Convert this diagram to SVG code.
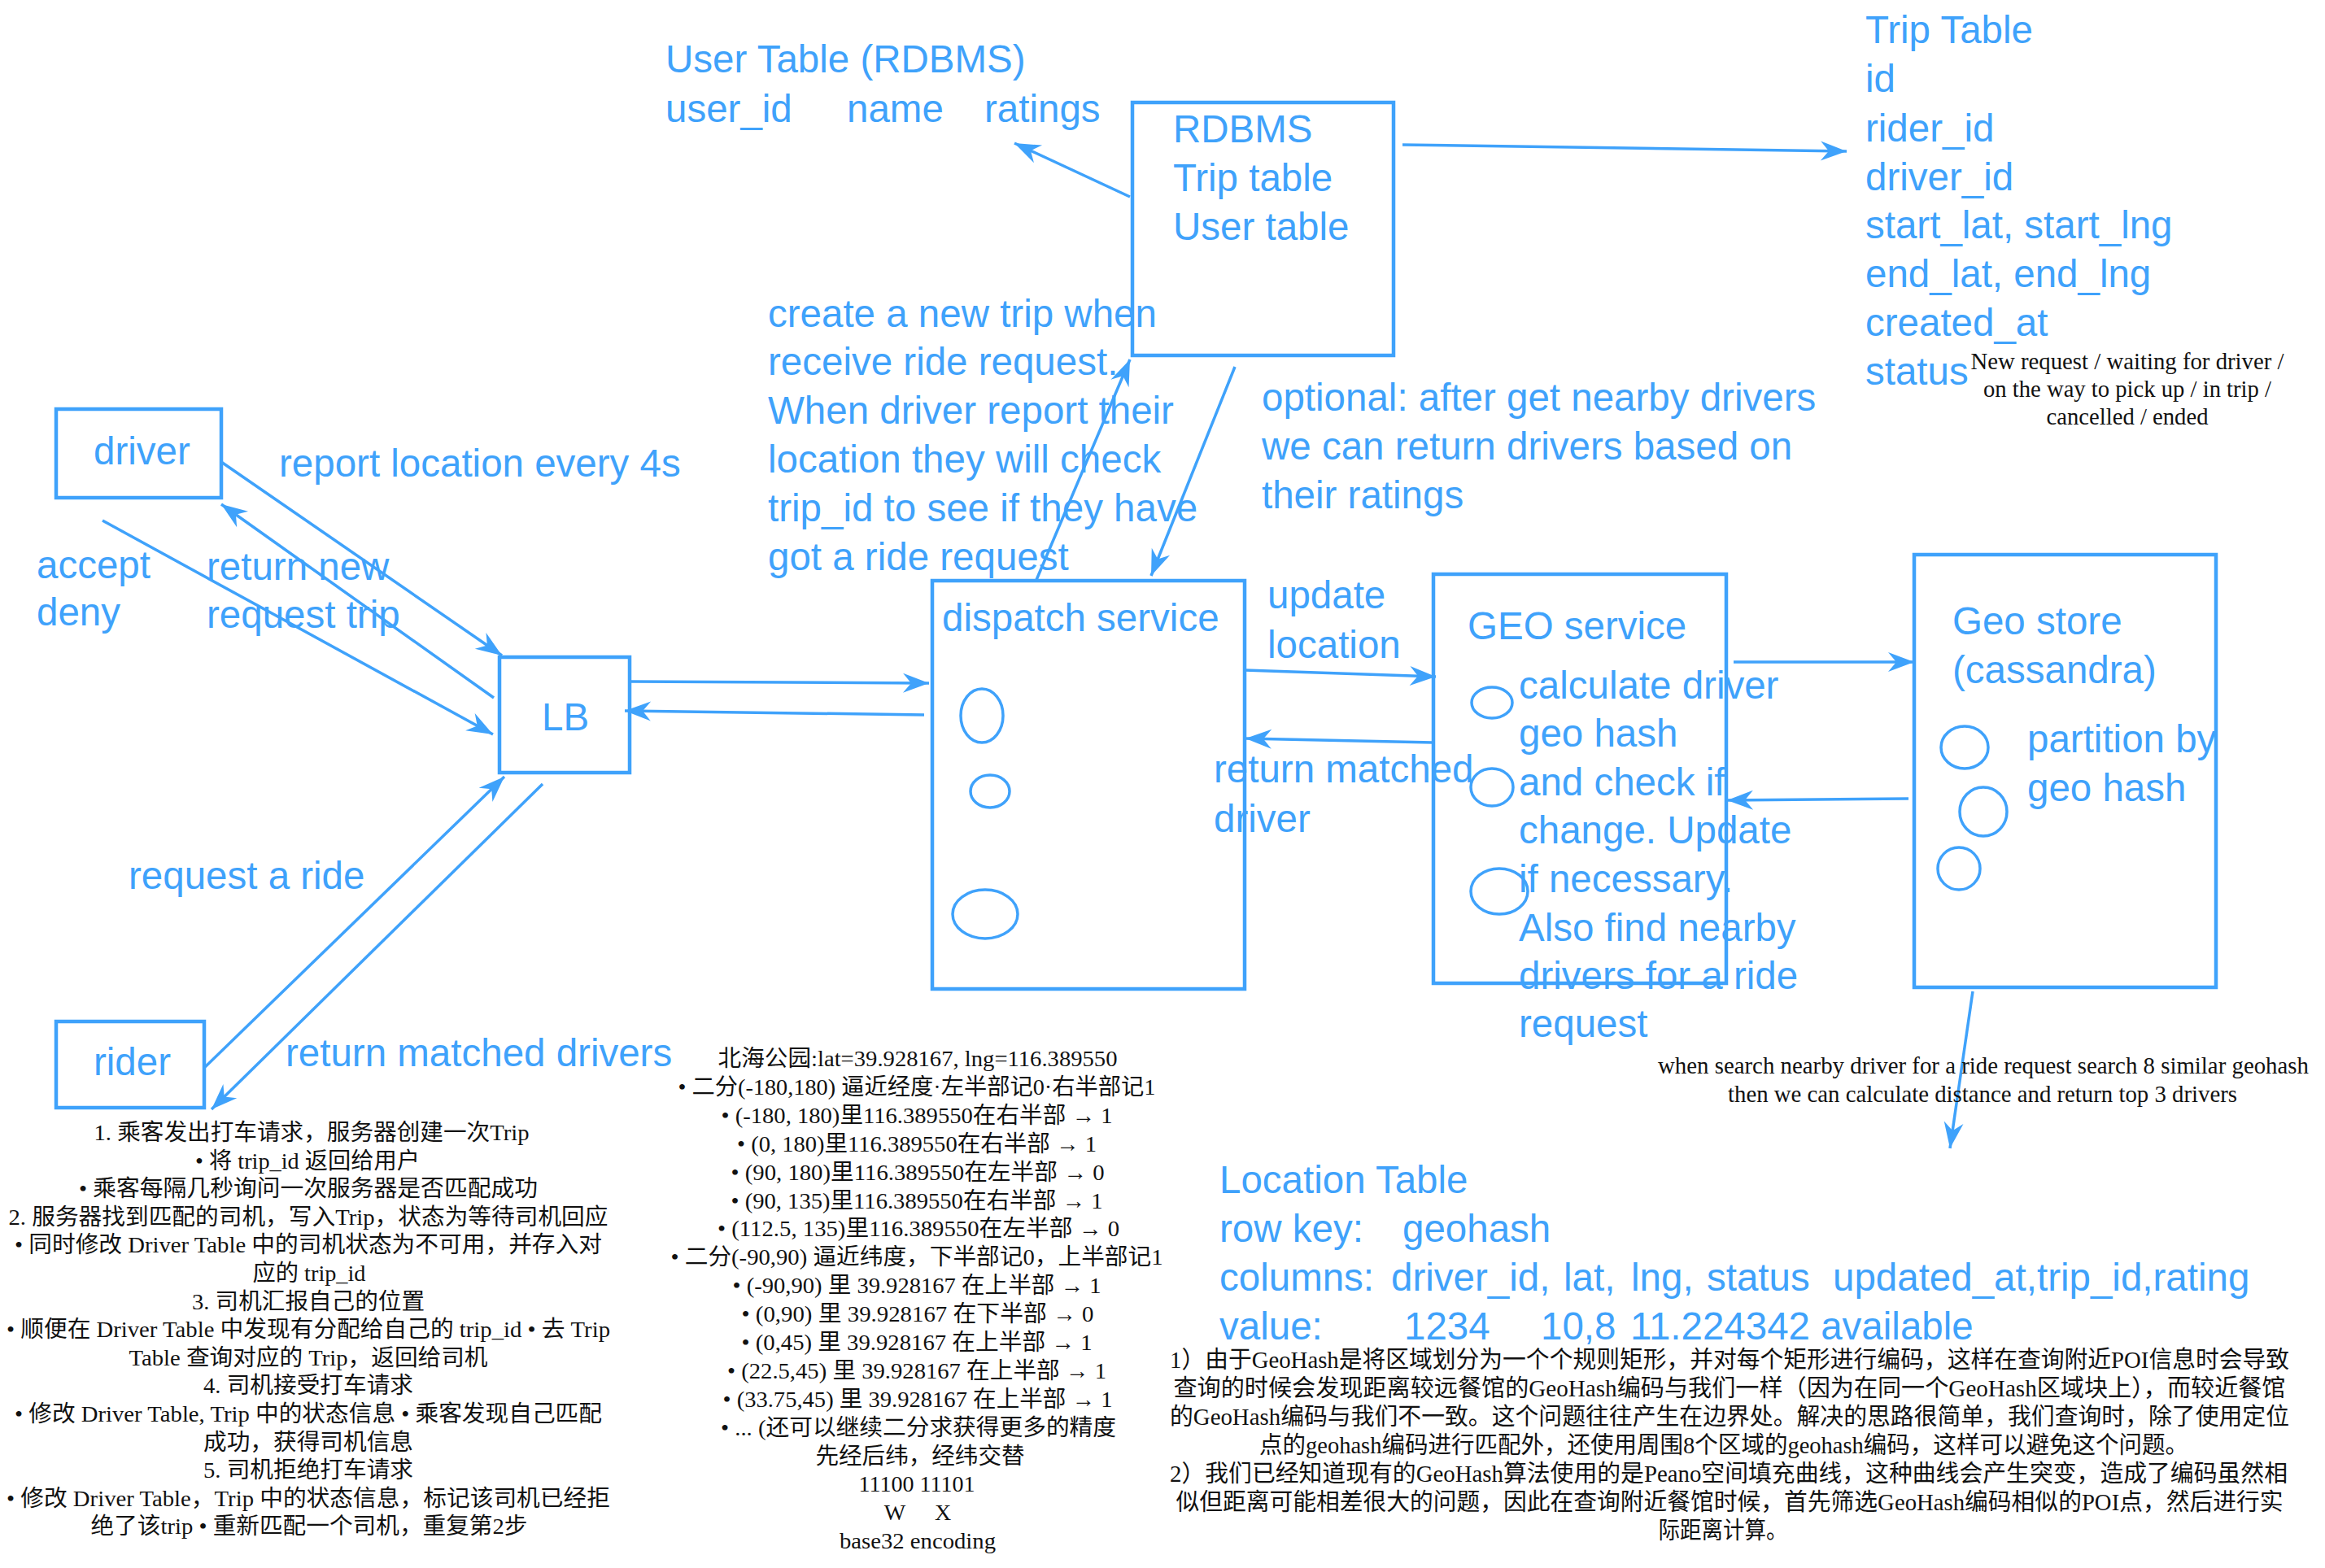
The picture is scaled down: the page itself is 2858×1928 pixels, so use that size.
<svg xmlns="http://www.w3.org/2000/svg" width="2858" height="1928" viewBox="0 0 2858 1928">
<style>
.b{font-family:"Liberation Sans",Arial,sans-serif;font-size:47.5px;fill:#3fa2fb}
.k{font-family:"Liberation Serif","Noto Sans CJK SC",serif;font-size:28px;fill:#111;text-anchor:middle}
.k29{font-size:29px}
.box{fill:none;stroke:#3fa2fb;stroke-width:4.5}
.ell{fill:none;stroke:#3fa2fb;stroke-width:3.5}
.conn line{stroke:#3fa2fb;stroke-width:3.5;marker-end:url(#ah)}
</style>
<defs>
<marker id="ah" markerUnits="userSpaceOnUse" viewBox="-33 -14 35 28" markerWidth="35" markerHeight="28" refX="0" refY="0" orient="auto">
<path d="M0,0 L-32,-12 L-22,0 L-32,12 Z" fill="#3fa2fb"/>
</marker>
</defs>
<rect width="2858" height="1928" fill="#fff"/>

<g id="connectors" class="conn">
<line x1="272" y1="568" x2="617" y2="806"/>
<line x1="607" y1="858" x2="272" y2="620"/>
<line x1="126" y1="640" x2="606" y2="903"/>
<line x1="775" y1="838" x2="1142" y2="840"/>
<line x1="1136" y1="879" x2="768" y2="874"/>
<line x1="251" y1="1313" x2="620" y2="955"/>
<line x1="667" y1="964" x2="260" y2="1364"/>
<line x1="1389" y1="242" x2="1247" y2="176"/>
<line x1="1724" y1="178" x2="2270" y2="186"/>
<line x1="1274" y1="713" x2="1389" y2="442"/>
<line x1="1518" y1="451" x2="1415" y2="708"/>
<line x1="1530" y1="824" x2="1765" y2="832"/>
<line x1="1761" y1="913" x2="1531" y2="908"/>
<line x1="2131" y1="814" x2="2353" y2="814"/>
<line x1="2346" y1="982" x2="2123" y2="984"/>
<line x1="2425" y1="1219" x2="2397" y2="1412"/>
</g>

<g id="driver">
<rect class="box" x="69" y="503" width="203" height="109"/>
<text class="b" x="115" y="571">driver</text>
</g>
<g id="lb">
<rect class="box" x="614" y="808" width="160" height="142"/>
<text class="b" x="666" y="898">LB</text>
</g>
<g id="rider">
<rect class="box" x="69" y="1256" width="182" height="106"/>
<text class="b" x="115" y="1322">rider</text>
</g>
<g id="rdbms">
<rect class="box" x="1392" y="126" width="321" height="311"/>
<text class="b" x="1442" y="175">RDBMS</text>
<text class="b" x="1442" y="235">Trip table</text>
<text class="b" x="1442" y="295">User table</text>
</g>
<g id="dispatch-service">
<rect class="box" x="1146" y="714" width="384" height="502"/>
<text class="b" x="1158" y="776">dispatch service</text>
<ellipse class="ell" cx="1207" cy="880" rx="26" ry="33"/>
<ellipse class="ell" cx="1217" cy="973" rx="24" ry="20"/>
<ellipse class="ell" cx="1211" cy="1124" rx="40" ry="30"/>
</g>
<g id="geo-service">
<rect class="box" x="1762" y="706" width="360" height="503"/>
<text class="b" x="1804" y="786">GEO service</text>
<ellipse class="ell" cx="1834" cy="864" rx="25" ry="19"/>
<ellipse class="ell" cx="1834" cy="968" rx="26" ry="23"/>
<ellipse class="ell" cx="1843" cy="1096" rx="35" ry="28"/>
<text class="b" x="1867" y="859">calculate driver</text>
<text class="b" x="1867" y="918">geo hash</text>
<text class="b" x="1867" y="978">and check if</text>
<text class="b" x="1867" y="1037">change. Update</text>
<text class="b" x="1867" y="1097">if necessary.</text>
<text class="b" x="1867" y="1157">Also find nearby</text>
<text class="b" x="1867" y="1216">drivers for a ride</text>
<text class="b" x="1867" y="1275">request</text>
</g>
<g id="geo-store">
<rect class="box" x="2353" y="682" width="371" height="532"/>
<text class="b" x="2400" y="780">Geo store</text>
<text class="b" x="2400" y="840">(cassandra)</text>
<ellipse class="ell" cx="2415" cy="919" rx="29" ry="26"/>
<ellipse class="ell" cx="2438" cy="998" rx="29" ry="30"/>
<ellipse class="ell" cx="2408" cy="1068" rx="26" ry="26"/>
<text class="b" x="2492" y="925">partition by</text>
<text class="b" x="2492" y="985">geo hash</text>
</g>

<g id="edge-labels">
<text class="b" x="343" y="586">report location every 4s</text>
<text class="b" x="45" y="711">accept</text>
<text class="b" x="45" y="769">deny</text>
<text class="b" x="254" y="713">return new</text>
<text class="b" x="254" y="772">request trip</text>
<text class="b" x="158" y="1093">request a ride</text>
<text class="b" x="351" y="1311">return matched drivers</text>
<text class="b" x="944" y="402">create a new trip when</text>
<text class="b" x="944" y="461">receive ride request.</text>
<text class="b" x="944" y="521">When driver report their</text>
<text class="b" x="944" y="581">location they will check</text>
<text class="b" x="944" y="641">trip_id to see if they have</text>
<text class="b" x="944" y="701">got a ride request</text>
<text class="b" x="1551" y="505">optional: after get nearby drivers</text>
<text class="b" x="1551" y="565">we can return drivers based on</text>
<text class="b" x="1551" y="625">their ratings</text>
<text class="b" x="1558" y="748">update</text>
<text class="b" x="1558" y="809">location</text>
<text class="b" x="1492" y="962">return matched</text>
<text class="b" x="1492" y="1023">driver</text>
</g>

<g id="user-table">
<text class="b" x="818" y="89">User Table (RDBMS)</text>
<text class="b" y="150"><tspan x="818">user_id</tspan><tspan x="1041">name</tspan><tspan x="1210">ratings</tspan></text>
</g>

<g id="trip-table">
<text class="b" x="2293" y="53">Trip Table</text>
<text class="b" x="2293" y="113">id</text>
<text class="b" x="2293" y="174">rider_id</text>
<text class="b" x="2293" y="234">driver_id</text>
<text class="b" x="2293" y="293">start_lat, start_lng</text>
<text class="b" x="2293" y="353">end_lat, end_lng</text>
<text class="b" x="2293" y="413">created_at</text>
<text class="b" x="2293" y="473">status</text>
<text class="k k29" x="2615" y="454" textLength="385" lengthAdjust="spacingAndGlyphs">New request / waiting for driver /</text>
<text class="k k29" x="2615" y="488" textLength="354" lengthAdjust="spacingAndGlyphs">on the way to pick up / in trip /</text>
<text class="k k29" x="2615" y="522" textLength="199" lengthAdjust="spacingAndGlyphs">cancelled / ended</text>
</g>

<g id="location-table">
<text class="b" x="1499" y="1467">Location Table</text>
<text class="b" y="1527"><tspan x="1499">row key:</tspan><tspan x="1724">geohash</tspan></text>
<text class="b" y="1587"><tspan x="1499">columns:</tspan><tspan x="1710">driver_id,</tspan><tspan x="1922">lat,</tspan><tspan x="2005">lng,</tspan><tspan x="2098">status</tspan><tspan x="2253">updated_at,trip_id,rating</tspan></text>
<text class="b" y="1647"><tspan x="1499">value:</tspan><tspan x="1726">1234</tspan><tspan x="1894">10,8</tspan><tspan x="2004">11.224342 available</tspan></text>
<text class="k k29" x="2438" y="1320" textLength="800" lengthAdjust="spacingAndGlyphs">when search nearby driver for a ride request search 8 similar geohash</text>
<text class="k k29" x="2437" y="1355" textLength="626" lengthAdjust="spacingAndGlyphs">then we can calculate distance and return top 3 drivers</text>
</g>

<g id="trip-flow-notes">
<text class="k" x="383" y="1402" textLength="535" lengthAdjust="spacingAndGlyphs">1. 乘客发出打车请求，服务器创建一次Trip</text>
<text class="k" x="378" y="1437" textLength="276" lengthAdjust="spacingAndGlyphs">• 将 trip_id 返回给用户</text>
<text class="k" x="379" y="1471" textLength="564" lengthAdjust="spacingAndGlyphs">• 乘客每隔几秒询问一次服务器是否匹配成功</text>
<text class="k" x="379" y="1506" textLength="737" lengthAdjust="spacingAndGlyphs">2. 服务器找到匹配的司机，写入Trip，状态为等待司机回应</text>
<text class="k" x="379" y="1540" textLength="722" lengthAdjust="spacingAndGlyphs">• 同时修改 Driver Table 中的司机状态为不可用，并存入对</text>
<text class="k" x="380" y="1575" textLength="139" lengthAdjust="spacingAndGlyphs">应的 trip_id</text>
<text class="k" x="379" y="1610" textLength="286" lengthAdjust="spacingAndGlyphs">3. 司机汇报自己的位置</text>
<text class="k" x="379" y="1644" textLength="742" lengthAdjust="spacingAndGlyphs">• 顺便在 Driver Table 中发现有分配给自己的 trip_id • 去 Trip</text>
<text class="k" x="379" y="1679" textLength="441" lengthAdjust="spacingAndGlyphs">Table 查询对应的 Trip，返回给司机</text>
<text class="k" x="379" y="1713" textLength="258" lengthAdjust="spacingAndGlyphs">4. 司机接受打车请求</text>
<text class="k" x="379" y="1748" textLength="722" lengthAdjust="spacingAndGlyphs">• 修改 Driver Table, Trip 中的状态信息 • 乘客发现自己匹配</text>
<text class="k" x="379" y="1783" textLength="258" lengthAdjust="spacingAndGlyphs">成功，获得司机信息</text>
<text class="k" x="379" y="1817" textLength="258" lengthAdjust="spacingAndGlyphs">5. 司机拒绝打车请求</text>
<text class="k" x="379" y="1852" textLength="742" lengthAdjust="spacingAndGlyphs">• 修改 Driver Table，Trip 中的状态信息，标记该司机已经拒</text>
<text class="k" x="380" y="1886" textLength="537" lengthAdjust="spacingAndGlyphs">绝了该trip • 重新匹配一个司机，重复第2步</text>
</g>

<g id="geohash-notes">
<text class="k" x="1128" y="1311" textLength="491" lengthAdjust="spacingAndGlyphs">北海公园:lat=39.928167, lng=116.389550</text>
<text class="k" x="1127" y="1346" textLength="587" lengthAdjust="spacingAndGlyphs">• 二分(-180,180) 逼近经度·左半部记0·右半部记1</text>
<text class="k" x="1127" y="1381" textLength="481" lengthAdjust="spacingAndGlyphs">• (-180, 180)里116.389550在右半部 → 1</text>
<text class="k" x="1127" y="1416" textLength="442" lengthAdjust="spacingAndGlyphs">• (0, 180)里116.389550在右半部 → 1</text>
<text class="k" x="1128" y="1451" textLength="459" lengthAdjust="spacingAndGlyphs">• (90, 180)里116.389550在左半部 → 0</text>
<text class="k" x="1127" y="1486" textLength="457" lengthAdjust="spacingAndGlyphs">• (90, 135)里116.389550在右半部 → 1</text>
<text class="k" x="1129" y="1520" textLength="494" lengthAdjust="spacingAndGlyphs">• (112.5, 135)里116.389550在左半部 → 0</text>
<text class="k" x="1127" y="1555" textLength="605" lengthAdjust="spacingAndGlyphs">• 二分(-90,90) 逼近纬度，下半部记0，上半部记1</text>
<text class="k" x="1127" y="1590" textLength="453" lengthAdjust="spacingAndGlyphs">• (-90,90) 里 39.928167 在上半部 → 1</text>
<text class="k" x="1128" y="1625" textLength="433" lengthAdjust="spacingAndGlyphs">• (0,90) 里 39.928167 在下半部 → 0</text>
<text class="k" x="1127" y="1660" textLength="431" lengthAdjust="spacingAndGlyphs">• (0,45) 里 39.928167 在上半部 → 1</text>
<text class="k" x="1127" y="1695" textLength="466" lengthAdjust="spacingAndGlyphs">• (22.5,45) 里 39.928167 在上半部 → 1</text>
<text class="k" x="1128" y="1730" textLength="479" lengthAdjust="spacingAndGlyphs">• (33.75,45) 里 39.928167 在上半部 → 1</text>
<text class="k" x="1129" y="1765" textLength="486" lengthAdjust="spacingAndGlyphs">• ... (还可以继续二分求获得更多的精度</text>
<text class="k" x="1131" y="1800" textLength="257" lengthAdjust="spacingAndGlyphs">先经后纬，经纬交替</text>
<text class="k" x="1127" y="1834" textLength="143" lengthAdjust="spacingAndGlyphs">11100 11101</text>
<text class="k" x="1100" y="1869">W</text>
<text class="k" x="1159" y="1869">X</text>
<text class="k" x="1128" y="1904" textLength="192" lengthAdjust="spacingAndGlyphs">base32 encoding</text>
</g>

<g id="geohash-issues">
<text class="k k29" x="2126" y="1682" textLength="1376" lengthAdjust="spacingAndGlyphs">1）由于GeoHash是将区域划分为一个个规则矩形，并对每个矩形进行编码，这样在查询附近POI信息时会导致</text>
<text class="k k29" x="2126" y="1717" textLength="1367" lengthAdjust="spacingAndGlyphs">查询的时候会发现距离较远餐馆的GeoHash编码与我们一样（因为在同一个GeoHash区域块上），而较近餐馆</text>
<text class="k k29" x="2126" y="1752" textLength="1376" lengthAdjust="spacingAndGlyphs">的GeoHash编码与我们不一致。这个问题往往产生在边界处。解决的思路很简单，我们查询时，除了使用定位</text>
<text class="k k29" x="2119" y="1787" textLength="1142" lengthAdjust="spacingAndGlyphs">点的geohash编码进行匹配外，还使用周围8个区域的geohash编码，这样可以避免这个问题。</text>
<text class="k k29" x="2125" y="1822" textLength="1374" lengthAdjust="spacingAndGlyphs">2）我们已经知道现有的GeoHash算法使用的是Peano空间填充曲线，这种曲线会产生突变，造成了编码虽然相</text>
<text class="k k29" x="2126" y="1857" textLength="1361" lengthAdjust="spacingAndGlyphs">似但距离可能相差很大的问题，因此在查询附近餐馆时候，首先筛选GeoHash编码相似的POI点，然后进行实</text>
<text class="k k29" x="2118" y="1892" textLength="159" lengthAdjust="spacingAndGlyphs">际距离计算。</text>
</g>
</svg>
